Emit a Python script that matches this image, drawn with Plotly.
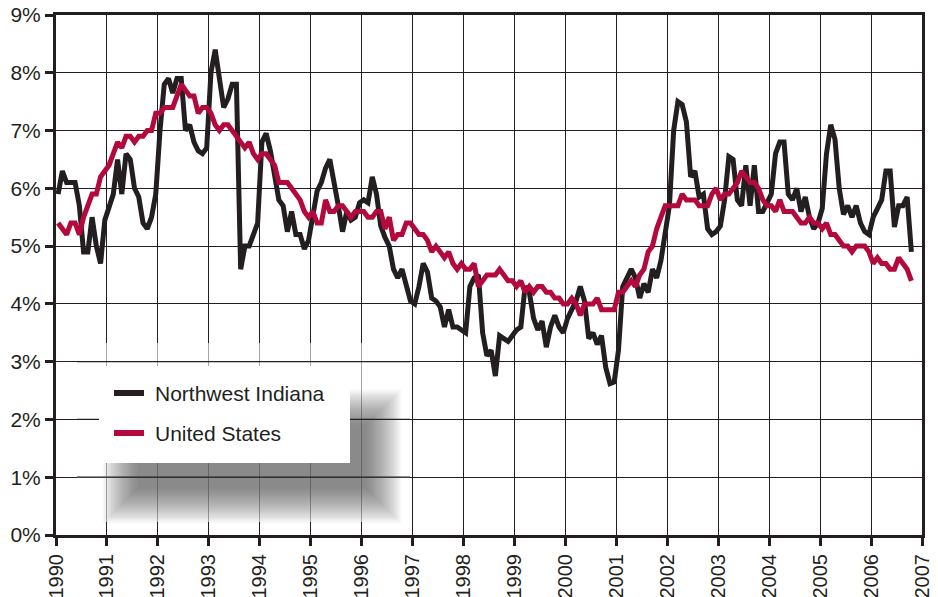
import plotly.graph_objects as go

# ---------------- data (monthly, Jan 1990 - Oct 2006) ----------------
start_year = 1990
nw_indiana = [
    5.9, 6.3, 6.1, 6.1, 6.1, 5.7, 4.9, 4.9, 5.5, 5.0, 4.7, 5.45,      # 1990
    5.7, 5.9, 6.5, 5.9, 6.6, 6.5, 6.0, 5.85, 5.4, 5.3, 5.5, 5.9,      # 1991
    7.0, 7.8, 7.9, 7.65, 7.9, 7.9, 7.0, 7.1, 6.8, 6.65, 6.6, 6.7,     # 1992
    8.0, 8.4, 7.9, 7.4, 7.55, 7.8, 7.8, 4.6, 5.0, 5.0, 5.2, 5.4,      # 1993
    6.8, 6.95, 6.65, 6.2, 5.8, 5.7, 5.25, 5.6, 5.2, 5.2, 4.95, 5.1,   # 1994
    5.55, 5.95, 6.1, 6.35, 6.5, 6.15, 5.7, 5.25, 5.6, 5.45, 5.5, 5.75,# 1995
    5.8, 5.75, 6.2, 5.9, 5.35, 5.15, 5.0, 4.6, 4.45, 4.6, 4.3, 4.05,  # 1996
    4.0, 4.3, 4.7, 4.55, 4.1, 4.05, 3.95, 3.6, 3.9, 3.6, 3.6, 3.55,   # 1997
    3.5, 4.3, 4.45, 4.5, 3.5, 3.1, 3.2, 2.75, 3.45, 3.4, 3.35, 3.45,  # 1998
    3.55, 3.6, 4.3, 4.2, 3.75, 3.55, 3.7, 3.25, 3.6, 3.8, 3.6, 3.5,   # 1999
    3.75, 3.9, 4.05, 4.3, 4.05, 3.4, 3.5, 3.3, 3.45, 2.9, 2.62, 2.65, # 2000
    3.2, 4.3, 4.47, 4.6, 4.45, 4.1, 4.35, 4.2, 4.6, 4.45, 4.75, 5.2,  # 2001
    5.7, 7.0, 7.5, 7.45, 7.15, 6.2, 6.3, 5.85, 5.9, 5.3, 5.2, 5.25,   # 2002
    5.35, 5.8, 6.55, 6.5, 5.8, 5.7, 6.4, 5.7, 6.4, 5.6, 5.6, 5.75,    # 2003
    5.9, 6.6, 6.8, 6.8, 5.9, 5.8, 6.0, 5.6, 5.85, 5.5, 5.3, 5.4,      # 2004
    5.65, 6.6, 7.1, 6.85, 6.0, 5.55, 5.7, 5.5, 5.7, 5.4, 5.25, 5.2,   # 2005
    5.5, 5.65, 5.8, 6.3, 6.3, 5.33, 5.7, 5.7, 5.85, 4.9,              # 2006
]
united_states = [
    5.4, 5.3, 5.2, 5.4, 5.4, 5.2, 5.5, 5.7, 5.9, 5.9, 6.2, 6.3,       # 1990
    6.4, 6.6, 6.8, 6.7, 6.9, 6.9, 6.8, 6.9, 6.9, 7.0, 7.0, 7.3,       # 1991
    7.3, 7.4, 7.4, 7.4, 7.6, 7.8, 7.7, 7.6, 7.6, 7.3, 7.4, 7.4,       # 1992
    7.3, 7.1, 7.0, 7.1, 7.1, 7.0, 6.9, 6.8, 6.7, 6.8, 6.6, 6.5,       # 1993
    6.6, 6.6, 6.5, 6.4, 6.1, 6.1, 6.1, 6.0, 5.9, 5.8, 5.6, 5.5,       # 1994
    5.6, 5.4, 5.4, 5.8, 5.6, 5.6, 5.7, 5.7, 5.6, 5.5, 5.6, 5.6,       # 1995
    5.6, 5.5, 5.5, 5.6, 5.6, 5.3, 5.5, 5.1, 5.2, 5.2, 5.4, 5.4,       # 1996
    5.3, 5.2, 5.2, 5.1, 4.9, 5.0, 4.9, 4.8, 4.9, 4.7, 4.6, 4.7,       # 1997
    4.6, 4.6, 4.7, 4.3, 4.4, 4.5, 4.5, 4.5, 4.6, 4.5, 4.4, 4.4,       # 1998
    4.3, 4.4, 4.2, 4.3, 4.2, 4.3, 4.3, 4.2, 4.2, 4.1, 4.1, 4.0,       # 1999
    4.0, 4.1, 4.0, 3.8, 4.0, 4.0, 4.0, 4.1, 3.9, 3.9, 3.9, 3.9,       # 2000
    4.2, 4.2, 4.3, 4.4, 4.3, 4.5, 4.6, 4.9, 5.0, 5.3, 5.5, 5.7,       # 2001
    5.7, 5.7, 5.7, 5.9, 5.8, 5.8, 5.8, 5.7, 5.7, 5.7, 5.9, 6.0,       # 2002
    5.8, 5.9, 5.9, 6.0, 6.1, 6.3, 6.2, 6.1, 6.1, 6.0, 5.8, 5.7,       # 2003
    5.7, 5.6, 5.8, 5.6, 5.6, 5.6, 5.5, 5.4, 5.4, 5.5, 5.4, 5.4,       # 2004
    5.3, 5.4, 5.2, 5.2, 5.1, 5.0, 5.0, 4.9, 5.0, 5.0, 5.0, 4.9,       # 2005
    4.7, 4.8, 4.7, 4.7, 4.6, 4.6, 4.8, 4.7, 4.6, 4.4,                 # 2006
]
tick_years = list(range(1990, 2008))
y_ticks = list(range(0, 10))
series_names = ["Northwest Indiana", "United States"]

# ---------------- styling ----------------
INK = "#231f20"
RED = "#b3093c"
FONT = "Liberation Sans, Arial, sans-serif"
W, H = 938, 597
ML, MR, MT, MB = 56, 16, 15, 62

months = [start_year + (i + 0.5) / 12 for i in range(len(nw_indiana))]

fig = go.Figure()
fig.add_trace(go.Scatter(x=months, y=nw_indiana, mode="lines", name=series_names[0],
                         line=dict(color=INK, width=5), showlegend=False))
fig.add_trace(go.Scatter(x=months, y=united_states, mode="lines", name=series_names[1],
                         line=dict(color=RED, width=5), showlegend=False))

axis_common = dict(
    showgrid=True, gridcolor=INK, gridwidth=1.3,
    showline=True, linecolor=INK, linewidth=3, mirror=True,
    ticks="outside", ticklen=8, tickwidth=2.5, tickcolor=INK,
    zeroline=False, fixedrange=True, automargin=False,
)
fig.update_xaxes(range=[tick_years[0], tick_years[-1]], tickmode="array",
                 tickvals=tick_years, ticktext=[str(y) for y in tick_years],
                 tickangle=-90, tickfont=dict(family=FONT, size=20, color=INK),
                 **axis_common)
fig.update_yaxes(range=[y_ticks[0], y_ticks[-1]], tickmode="array",
                 tickvals=y_ticks, ticktext=[f"{v}%" for v in y_ticks],
                 ticklabelstandoff=0, tickfont=dict(family=FONT, size=21, color=INK),
                 **axis_common)

# ---------------- legend box with soft drop shadow ----------------
pw, ph = W - ML - MR, H - MT - MB
def px(xp):  # pixel -> paper x
    return (xp - ML) / pw
def py(yp):  # pixel -> paper y
    return (H - MB - yp) / ph

shapes = []
# faded haze behind the shadow
shapes.append(dict(type="rect", xref="paper", yref="paper",
                   x0=px(77), x1=px(410), y0=py(522), y1=py(343),
                   fillcolor="white", opacity=0.6, line=dict(width=0)))
# blurred shadow (many stacked translucent rectangles)
cx0, cx1, cy0, cy1 = 138, 366, 425, 488
for k in range(32):
    e = k * 1.15
    shapes.append(dict(type="rect", xref="paper", yref="paper",
                       x0=px(cx0 - e), x1=px(cx1 + e), y0=py(cy1 + e), y1=py(cy0 - e),
                       fillcolor="#3a3a3a", opacity=0.028, line=dict(width=0)))
# horizontal gridlines drawn over the shadow
for v in (1, 2, 3):
    yp = H - MB - v * ph / 9
    shapes.append(dict(type="line", xref="paper", yref="paper",
                       x0=px(77), x1=px(410), y0=py(yp), y1=py(yp),
                       line=dict(color=INK, width=1.3)))
# white legend box
shapes.append(dict(type="rect", xref="paper", yref="paper",
                   x0=px(99), x1=px(350), y0=py(463), y1=py(366),
                   fillcolor="white", line=dict(width=0)))
# legend swatches
for yp, col in ((393, INK), (433, RED)):
    shapes.append(dict(type="line", xref="paper", yref="paper",
                       x0=px(114), x1=px(144), y0=py(yp), y1=py(yp),
                       line=dict(color=col, width=6)))

annotations = []
for yp, name in ((393, series_names[0]), (433, series_names[1])):
    annotations.append(dict(xref="paper", yref="paper", x=px(153), y=py(yp),
                            text=name, showarrow=False, xanchor="left", yanchor="middle",
                            font=dict(family=FONT, size=21, color=INK)))

fig.update_layout(
    width=W, height=H,
    margin=dict(l=ML, r=MR, t=MT, b=MB, pad=0),
    paper_bgcolor="white", plot_bgcolor="white",
    shapes=shapes, annotations=annotations,
    showlegend=False,
)

fig.write_html("out.html", config={"displayModeBar": False},
               post_script="document.body.style.margin='0';document.body.style.overflow='hidden';")
